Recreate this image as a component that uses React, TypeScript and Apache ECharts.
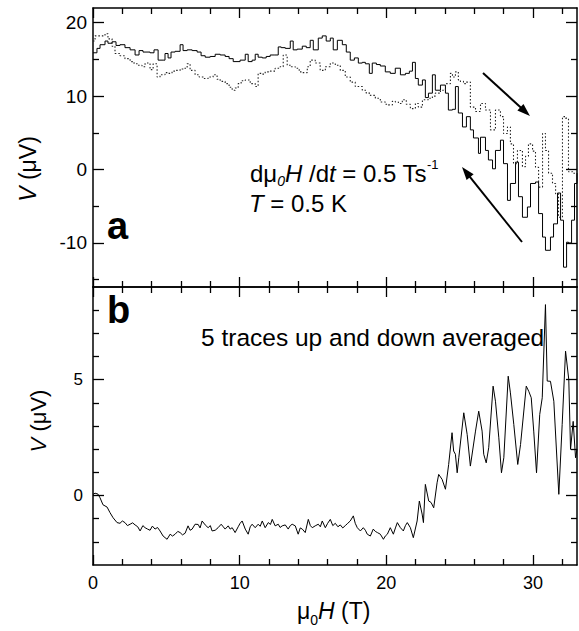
import React, { useEffect, useRef } from "react";
import * as echarts from "echarts";

// ---------- data ----------
// panel a: solid trace, [mu0H (T), V (uV)]
const sweepSolid: number[][] = [
  [0.0, 15.9], [0.27, 16.5], [0.48, 17.0], [0.82, 17.5], [1.02, 17.2], [1.3, 17.4], [1.57, 16.9], [1.84, 17.0],
  [2.18, 16.6], [2.53, 16.3], [2.87, 15.6], [3.14, 16.2], [3.41, 16.0], [3.89, 15.9], [4.16, 16.3], [4.44, 14.9],
  [4.78, 14.9], [4.91, 15.8], [5.12, 15.2], [5.32, 16.0], [5.6, 16.1], [5.94, 17.0], [6.14, 16.2], [6.42, 16.3],
  [6.76, 16.2], [7.1, 16.0], [7.37, 15.5], [7.65, 15.3], [7.99, 15.4], [8.33, 15.7], [8.67, 15.6], [9.01, 15.4],
  [9.28, 15.1], [9.56, 14.7], [10.03, 14.9], [10.38, 15.7], [10.58, 14.7], [10.85, 14.9], [11.06, 15.7], [11.26, 15.3],
  [11.54, 15.2], [11.81, 15.4], [12.08, 15.6], [12.35, 15.6], [12.63, 16.7], [12.83, 16.6], [13.11, 16.5], [13.45, 17.5],
  [13.65, 16.3], [13.92, 16.4], [14.27, 16.8], [14.54, 16.6], [14.81, 17.6], [15.02, 16.3], [15.36, 17.9], [15.63, 18.2],
  [15.9, 17.5], [16.18, 17.9], [16.38, 16.3], [16.66, 17.6], [17.0, 17.0], [17.27, 16.0], [17.54, 14.9], [17.82, 15.2],
  [18.09, 14.5], [18.36, 14.6], [18.57, 14.4], [18.84, 13.1], [19.04, 14.5], [19.32, 14.3], [19.59, 14.1], [19.93, 13.3],
  [20.27, 13.1], [20.61, 13.8], [20.96, 12.9], [21.3, 13.1], [21.57, 13.4], [21.78, 14.6], [21.98, 12.4], [22.18, 11.5],
  [22.46, 12.2], [22.66, 9.8], [22.87, 10.4], [23.14, 12.9], [23.34, 10.8], [23.69, 11.5], [24.03, 10.4], [24.23, 8.1],
  [24.51, 8.2], [24.71, 11.3], [24.91, 7.7], [25.19, 5.8], [25.46, 7.2], [25.73, 5.4], [25.94, 4.3], [26.28, 2.2],
  [26.42, 4.4], [26.76, 2.6], [26.96, 1.3], [27.24, 0.1], [27.44, 2.6], [27.78, 4.0], [27.99, 0.8], [28.26, -4.2],
  [28.46, -1.9], [28.81, 1.0], [29.01, -3.7], [29.28, -6.5], [29.62, -5.1], [29.83, -1.9], [30.17, -1.7], [30.38, -6.0],
  [30.65, -9.2], [30.85, -11.0], [31.19, -9.2], [31.4, -7.4], [31.67, -3.2], [31.88, -6.9], [32.08, -13.3], [32.29, -9.9],
  [32.42, -10.0], [32.63, -6.9], [32.83, -1.9], [33.0, -0.5],
];

// panel a: dotted trace
const sweepDotted: number[][] = [
  [0.0, 17.5], [0.14, 18.2], [0.48, 18.2], [0.82, 18.5], [1.02, 17.8], [1.3, 16.8], [1.5, 15.8], [1.84, 15.5],
  [2.18, 15.1], [2.53, 14.7], [2.8, 14.4], [3.07, 14.2], [3.34, 14.0], [3.55, 14.5], [3.89, 13.6], [4.1, 14.4],
  [4.37, 12.6], [4.57, 12.9], [4.91, 13.2], [5.12, 13.1], [5.39, 13.4], [5.6, 13.5], [5.94, 13.7], [6.14, 13.8],
  [6.42, 14.4], [6.62, 13.5], [6.96, 12.9], [7.24, 12.6], [7.51, 12.4], [7.85, 12.6], [8.19, 12.9], [8.46, 12.3],
  [8.67, 12.0], [9.01, 11.7], [9.28, 11.2], [9.49, 10.8], [9.69, 11.1], [9.9, 11.7], [10.1, 12.1], [10.38, 12.2],
  [10.72, 11.7], [11.06, 11.3], [11.26, 13.1], [11.54, 13.0], [11.74, 13.3], [12.08, 13.4], [12.42, 13.8], [12.76, 14.0],
  [12.97, 15.6], [13.24, 14.2], [13.52, 14.0], [13.79, 13.8], [14.06, 13.3], [14.27, 13.2], [14.61, 14.0], [14.81, 14.9],
  [15.15, 14.5], [15.49, 13.5], [15.84, 14.0], [16.18, 14.5], [16.52, 14.2], [16.86, 13.5], [17.2, 12.6], [17.54, 11.9],
  [17.88, 11.3], [18.36, 10.8], [18.63, 10.4], [18.91, 10.1], [19.25, 9.7], [19.59, 9.2], [19.93, 8.9], [20.14, 8.8],
  [20.41, 9.3], [20.61, 9.2], [20.82, 9.0], [21.09, 9.5], [21.36, 8.9], [21.64, 8.3], [21.98, 9.0], [22.18, 8.5],
  [22.46, 9.5], [22.87, 9.7], [23.14, 10.0], [23.34, 10.4], [23.69, 10.8], [24.03, 11.7], [24.23, 11.7], [24.37, 13.1],
  [24.51, 12.6], [24.71, 13.3], [24.91, 12.2], [25.05, 12.0], [25.26, 11.7], [25.46, 11.9], [25.73, 8.5], [26.08, 7.9],
  [26.42, 9.0], [26.76, 8.1], [27.1, 5.4], [27.44, 8.1], [27.78, 7.2], [27.99, 4.9], [28.26, 5.8], [28.46, 3.5],
  [28.67, 0.8], [28.94, 2.6], [29.28, 0.4], [29.49, 1.8], [29.69, 3.5], [29.97, 2.5], [30.17, 0.3], [30.38, -2.4],
  [30.65, 4.9], [30.85, 2.6], [31.06, -0.5], [31.33, -1.9], [31.54, -3.3], [31.74, -6.5], [32.01, 7.2], [32.22, 7.0],
  [32.42, -0.3], [32.7, -0.5], [33.0, -0.5],
];

// panel b: averaged trace
const averaged: number[][] = [
  [0.0, 0.05], [0.14, 0.1], [0.34, 0.06], [0.48, -0.1], [0.68, -0.4], [0.96, -0.5], [1.16, -0.74], [1.37, -0.96],
  [1.64, -1.17], [1.84, -1.2], [2.0, -1.1], [2.18, -1.17], [2.35, -1.3], [2.53, -1.24], [2.7, -1.18], [2.87, -1.27],
  [3.05, -1.35], [3.21, -1.53], [3.4, -1.3], [3.55, -1.39], [3.72, -1.45], [3.89, -1.5], [4.05, -1.32], [4.23, -1.45],
  [4.4, -1.38], [4.57, -1.53], [4.78, -1.75], [5.05, -1.89], [5.26, -1.67], [5.42, -1.75], [5.6, -1.67], [5.78, -1.55],
  [5.94, -1.6], [6.1, -1.7], [6.28, -1.63], [6.48, -1.31], [6.62, -1.5], [6.76, -1.45], [6.96, -1.24], [7.17, -1.25],
  [7.3, -1.4], [7.44, -1.1], [7.65, -1.27], [7.85, -1.39], [8.0, -1.3], [8.12, -1.53], [8.33, -1.5], [8.53, -1.39],
  [8.74, -1.24], [8.88, -1.35], [9.01, -1.45], [9.22, -1.31], [9.35, -1.45], [9.49, -1.39], [9.69, -1.6], [9.9, -1.35],
  [10.03, -1.2], [10.17, -1.1], [10.38, -1.45], [10.58, -1.67], [10.72, -1.35], [10.85, -1.24], [11.06, -1.39], [11.26, -1.24],
  [11.4, -1.33], [11.54, -1.1], [11.74, -1.39], [11.95, -1.17], [12.1, -1.25], [12.22, -1.03], [12.42, -1.31], [12.63, -1.24],
  [12.76, -1.38], [12.9, -1.31], [13.11, -1.27], [13.31, -1.45], [13.45, -1.3], [13.58, -1.24], [13.79, -1.31], [13.99, -1.67],
  [14.13, -1.4], [14.27, -1.45], [14.47, -1.6], [14.68, -1.03], [14.82, -1.3], [14.95, -1.39], [15.15, -1.31], [15.36, -1.24],
  [15.5, -1.35], [15.63, -1.1], [15.84, -1.39], [16.0, -1.2], [16.18, -1.03], [16.35, -1.3], [16.52, -1.2], [16.7, -1.35],
  [16.86, -1.27], [17.03, -1.4], [17.2, -1.3], [17.37, -1.2], [17.54, -1.1], [17.75, -0.88], [17.88, -1.2], [18.02, -1.39],
  [18.23, -1.53], [18.43, -1.39], [18.57, -1.5], [18.7, -1.67], [18.91, -1.75], [19.11, -1.45], [19.25, -1.55], [19.39, -1.6],
  [19.59, -1.67], [19.8, -1.89], [19.93, -1.75], [20.07, -1.67], [20.27, -1.39], [20.48, -1.67], [20.62, -1.4], [20.75, -1.17],
  [20.96, -1.39], [21.16, -1.53], [21.3, -1.3], [21.43, -1.17], [21.64, -1.39], [21.84, -1.82], [22.1, -1.1], [22.25, -0.24],
  [22.44, -0.8], [22.53, -1.17], [22.66, 0.48], [22.89, -0.24], [23.05, -0.3], [23.23, -0.53], [23.46, 0.55], [23.57, 0.91],
  [23.8, 0.7], [24.03, 0.27], [24.25, 1.34], [24.48, 2.71], [24.59, 1.92], [24.71, 1.78], [24.83, 0.98], [24.94, 1.63],
  [25.28, 3.57], [25.51, 2.64], [25.73, 1.27], [26.08, 2.78], [26.3, 3.64], [26.53, 2.78], [26.64, 1.78], [26.81, 1.41],
  [26.98, 2.06], [27.28, 4.72], [27.44, 4.07], [27.67, 2.49], [27.85, 0.98], [28.01, 1.63], [28.31, 5.15], [28.46, 4.43],
  [28.69, 3.07], [28.96, 1.34], [29.15, 2.2], [29.54, 4.72], [29.71, 4.5], [29.88, 4.22], [30.05, 2.78], [30.24, 0.98],
  [30.46, 3.5], [30.63, 4.22], [30.85, 8.24], [30.97, 4.94], [31.19, 4.93], [31.42, 4.07], [31.76, 0.05], [31.99, 3.07],
  [32.22, 6.23], [32.44, 5.0], [32.56, 1.99], [32.74, 3.2], [32.9, 1.63], [33.0, 2.0],
];

// tick values
const xMajor = [0, 10, 20, 30];
const xMinor = [2, 4, 6, 8, 12, 14, 16, 18, 22, 24, 26, 28, 32];
const topYMajor = [-10, 0, 10, 20];
const topYMinor = [-15, -5, 5, 15];
const botYMajor = [0, 5];
const botYMinor = [-2, -1, 1, 2, 3, 4, 6, 7, 8];

const FF = '"Liberation Sans", Arial, Helvetica, sans-serif';

function measure(font: string, text: string): number {
  const c = document.createElement("canvas").getContext("2d") as CanvasRenderingContext2D;
  c.font = font;
  return c.measureText(text).width;
}

type Run = { t: string; size: number; italic?: boolean; dy?: number };
function runs(x0: number, y: number, list: Run[]): any[] {
  const out: any[] = [];
  let x = x0;
  for (const r of list) {
    const font = `${r.italic ? "italic " : ""}${r.size}px ${FF}`;
    out.push({
      type: "text",
      x,
      y: y + (r.dy || 0),
      silent: true,
      style: { text: r.t, font, fill: "#000", textAlign: "left", textVerticalAlign: "middle" },
    });
    x += measure(font, r.t);
  }
  return out;
}

function arrow(x1: number, y1: number, x2: number, y2: number): any[] {
  const dx = x2 - x1, dy = y2 - y1;
  const len = Math.hypot(dx, dy);
  const ux = dx / len, uy = dy / len;
  const nx = -uy, ny = ux;
  const L = 13, W = 4.5;
  const bx = x2 - ux * L, by = y2 - uy * L;
  return [
    { type: "line", silent: true, shape: { x1, y1, x2: bx + ux * 2, y2: by + uy * 2 }, style: { stroke: "#000", lineWidth: 2 } },
    {
      type: "polygon",
      silent: true,
      shape: { points: [[x2, y2], [bx + nx * W, by + ny * W], [bx - nx * W, by - ny * W]] },
      style: { fill: "#000" },
    },
  ];
}

const axisLineOn = { show: true, onZero: false, lineStyle: { color: "#000", width: 1.5 } };
const axisLineOff = { show: false, onZero: false };

function xAxes(g: number): any[] {
  const common = { type: "value", gridIndex: g, min: 0, max: 33, splitLine: { show: false } };
  const mk = (pos: string, vals: number[], len: number, showLine: boolean, label: boolean) => ({
    ...common,
    position: pos,
    axisLine: showLine ? axisLineOn : axisLineOff,
    axisTick: { show: true, inside: true, length: len, lineStyle: { color: "#000", width: 1.3 }, customValues: vals },
    axisLabel: label
      ? { show: true, customValues: vals, color: "#000", fontSize: 18, fontFamily: FF, margin: 9 }
      : { show: false },
  });
  return [
    mk("bottom", xMajor, 10, true, g === 1),
    mk("bottom", xMinor, 6, false, false),
    mk("top", xMajor, 10, true, false),
    mk("top", xMinor, 6, false, false),
  ];
}

function yAxes(g: number, min: number, max: number, major: number[], minor: number[], fs: number, margin: number): any[] {
  const common = { type: "value", gridIndex: g, min, max, splitLine: { show: false } };
  const mk = (pos: string, vals: number[], len: number, showLine: boolean, label: boolean) => ({
    ...common,
    position: pos,
    axisLine: showLine ? axisLineOn : axisLineOff,
    axisTick: { show: true, inside: true, length: len, lineStyle: { color: "#000", width: 1.3 }, customValues: vals },
    axisLabel: label
      ? { show: true, customValues: vals, color: "#000", fontSize: fs, fontFamily: FF, margin }
      : { show: false },
  });
  return [
    mk("left", major, 11, true, true),
    mk("left", minor, 6, false, false),
    mk("right", major, 11, true, false),
    mk("right", minor, 6, false, false),
  ];
}

export default function App() {
  const ref = useRef<HTMLDivElement>(null);
  useEffect(() => {
    if (!ref.current) return;
    const chart = echarts.init(ref.current, null, { renderer: "svg" });

    const graphics: any[] = [
      // y titles
      {
        type: "text", x: 28, y: 169, rotation: Math.PI / 2, silent: true,
        style: {
          text: "{i|V}{n| (μV)}", fill: "#000", fontSize: 23, fontFamily: FF,
          textAlign: "center", textVerticalAlign: "middle",
          rich: { i: { fontStyle: "italic", fontSize: 23, fontFamily: FF }, n: { fontSize: 23, fontFamily: FF } },
        },
      },
      {
        type: "text", x: 38, y: 421, rotation: Math.PI / 2, silent: true,
        style: {
          text: "{i|V}{n| (μV)}", fill: "#000", fontSize: 22, fontFamily: FF,
          textAlign: "center", textVerticalAlign: "middle",
          rich: { i: { fontStyle: "italic", fontSize: 22, fontFamily: FF }, n: { fontSize: 22, fontFamily: FF } },
        },
      },
      // panel letters
      { type: "text", x: 107, y: 226, silent: true, style: { text: "a", font: `bold 38px ${FF}`, fill: "#000", textAlign: "left", textVerticalAlign: "middle" } },
      { type: "text", x: 107, y: 310, silent: true, style: { text: "b", font: `bold 38px ${FF}`, fill: "#000", textAlign: "left", textVerticalAlign: "middle" } },
      // panel b note
      { type: "text", x: 201, y: 337, silent: true, style: { text: "5 traces up and down averaged", font: `24.5px ${FF}`, fill: "#000", textAlign: "left", textVerticalAlign: "middle" } },
      ...runs(250, 173, [
        { t: "dμ", size: 24 },
        { t: "0", size: 14, italic: true, dy: 8 },
        { t: "H", size: 24, italic: true },
        { t: " /d", size: 24 },
        { t: "t", size: 24, italic: true },
        { t: " = 0.5 Ts", size: 24 },
        { t: "-1", size: 13, dy: -9 },
      ]),
      ...runs(249, 203, [
        { t: "T", size: 24, italic: true },
        { t: " = 0.5 K", size: 24 },
      ]),
      ...runs(297, 611, [
        { t: "μ", size: 23 },
        { t: "0", size: 14, dy: 9 },
        { t: "H", size: 23, italic: true },
        { t: " (T)", size: 23 },
      ]),
      ...arrow(483, 73, 530, 116),
      ...arrow(522, 242, 462, 167),
    ];

    chart.setOption({
      animation: false,
      backgroundColor: "#fff",
      grid: [
        { left: 93, right: 2, top: 8, height: 279 },
        { left: 93, right: 2, top: 287, height: 278 },
      ],
      xAxis: [...xAxes(0), ...xAxes(1)],
      yAxis: [
        ...yAxes(0, -16, 22, topYMajor, topYMinor, 19, 6),
        ...yAxes(1, -3, 9, botYMajor, botYMinor, 17, 10),
      ],
      series: [
        {
          type: "line", xAxisIndex: 0, yAxisIndex: 0, data: sweepSolid, step: "end",
          showSymbol: false, symbol: "none", lineStyle: { color: "#000", width: 1 },
        },
        {
          type: "line", xAxisIndex: 0, yAxisIndex: 0, data: sweepDotted, step: "end",
          showSymbol: false, symbol: "none", lineStyle: { color: "#222", width: 1.1, type: [1.5, 2] },
        },
        {
          type: "line", xAxisIndex: 4, yAxisIndex: 4, data: averaged,
          showSymbol: false, symbol: "none", lineStyle: { color: "#000", width: 1 },
        },
      ],
      graphic: graphics,
    });
    return () => chart.dispose();
  }, []);
  return (
    <div
      ref={ref}
      style={{ position: "fixed", left: 0, top: 0, width: 579, height: 631, background: "#fff" }}
    />
  );
}
